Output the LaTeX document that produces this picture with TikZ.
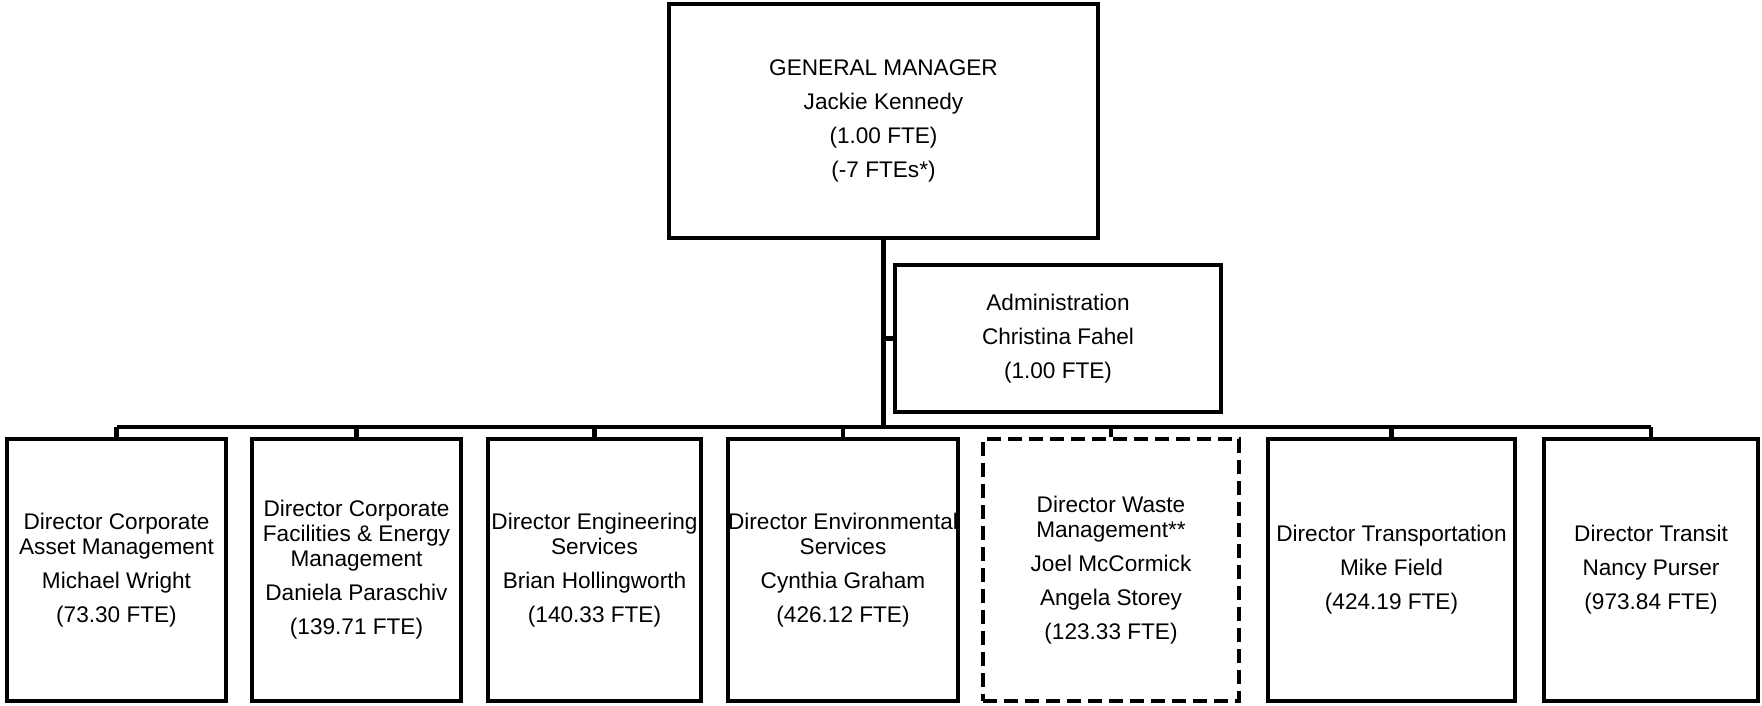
\documentclass[tikz,border=0pt]{standalone}
\usepackage{fontspec}
\setmainfont{Liberation Sans}
\begin{document}
\begin{tikzpicture}[x=1pt,y=-1pt,
  box/.style={draw=black,line width=4.8pt,fill=white,inner sep=0pt,align=center,
    font=\fontsize{22.6}{25}\selectfont},
  topbox/.style={box,font=\fontsize{22.6}{34}\selectfont},
  dashbox/.style={box,dash pattern=on 14pt off 7pt},
  conn/.style={draw=black,line width=4.6pt}]
\useasboundingbox (0,0) rectangle (1762,706);
\fill[white] (0,0) rectangle (1762,706);

\node[topbox,minimum width=429pt,minimum height=234pt] (gm) at (883.5,121)
  {GENERAL MANAGER\\Jackie Kennedy\\(1.00 FTE)\\(-7 FTEs*)};
\node[topbox,minimum width=326pt,minimum height=147pt] (admin) at (1058,338.5)
  {Administration\\Christina Fahel\\(1.00 FTE)};

\coordinate (bar) at (0,427);

\node[box,minimum width=219pt,minimum height=262pt] (d1) at (116.5,570)
  {Director Corporate\\Asset Management\\[9pt]Michael Wright\\[9pt](73.30 FTE)};
\node[box,minimum width=209pt,minimum height=262pt] (d2) at (356.5,570)
  {Director Corporate\\Facilities \& Energy\\Management\\[9pt]Daniela Paraschiv\\[9pt](139.71 FTE)};
\node[box,minimum width=213pt,minimum height=262pt] (d3) at (594.5,570)
  {Director Engineering\\Services\\[9pt]Brian Hollingworth\\[9pt](140.33 FTE)};
\node[box,minimum width=228pt,minimum height=262pt] (d4) at (843,570)
  {Director Environmental\\Services\\[9pt]Cynthia Graham\\[9pt](426.12 FTE)};
\node[dashbox,minimum width=256pt,minimum height=262pt] (d5) at (1111,570)
  {Director Waste\\Management**\\[9pt]Joel McCormick\\[9pt]Angela Storey\\[9pt](123.33 FTE)};
\node[box,minimum width=247pt,minimum height=262pt] (d6) at (1391.5,570)
  {Director Transportation\\[9pt]Mike Field\\[9pt](424.19 FTE)};
\node[box,minimum width=214pt,minimum height=262pt] (d7) at (1651,570)
  {Director Transit\\[9pt]Nancy Purser\\[9pt](973.84 FTE)};

\draw[conn] (gm.south) -- (gm.south |- bar);
\draw[conn] (admin.west) -- (admin.west -| gm.south);
\draw[conn] (d1.north |- bar) -- (d7.north |- bar);
\foreach \d in {d1,d2,d3,d4,d5,d6,d7}{
  \draw[conn] (\d.north) -- (\d.north |- bar);
}
\end{tikzpicture}
\end{document}
